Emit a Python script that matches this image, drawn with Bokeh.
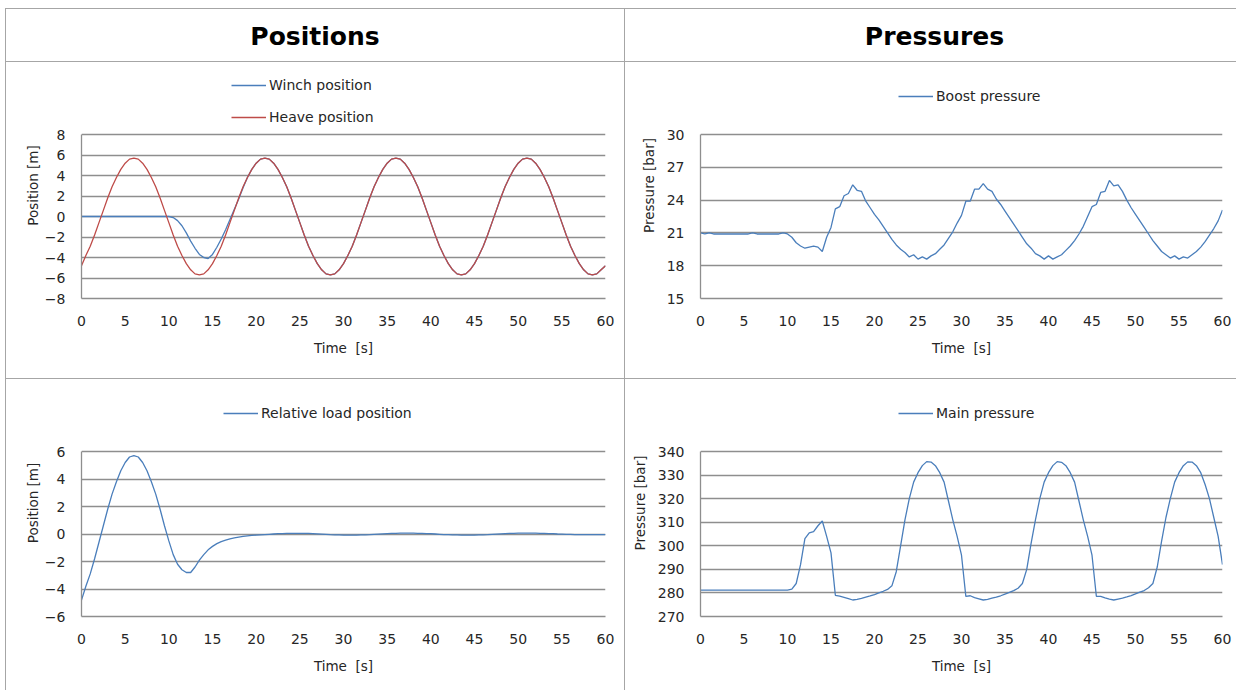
from bokeh.plotting import figure
from bokeh.models import Legend, LegendItem, Div, Range1d, FixedTicker
from bokeh.layouts import column, row
from bokeh.embed import file_html
from bokeh.resources import INLINE

# ---------------- data ----------------
time_s = [i * 0.5 for i in range(121)]  # 0 .. 60 s, 0.5 s steps

heave_position = [
    -4.8, -3.8, -2.9, -1.8, -0.6, 0.6, 1.8, 2.9, 3.8, 4.6, 5.2, 5.6, 5.7, 5.6, 5.2, 4.6, 3.8, 2.9, 1.8, 0.6,
    -0.6, -1.8, -2.9, -3.8, -4.6, -5.2, -5.6, -5.7, -5.6, -5.2,
    -4.6, -3.8, -2.9, -1.8, -0.6, 0.6, 1.8, 2.9, 3.8, 4.6, 5.2, 5.6, 5.7, 5.6, 5.2, 4.6, 3.8, 2.9, 1.8, 0.6,
    -0.6, -1.8, -2.9, -3.8, -4.6, -5.2, -5.6, -5.7, -5.6, -5.2,
    -4.6, -3.8, -2.9, -1.8, -0.6, 0.6, 1.8, 2.9, 3.8, 4.6, 5.2, 5.6, 5.7, 5.6, 5.2, 4.6, 3.8, 2.9, 1.8, 0.6,
    -0.6, -1.8, -2.9, -3.8, -4.6, -5.2, -5.6, -5.7, -5.6, -5.2,
    -4.6, -3.8, -2.9, -1.8, -0.6, 0.6, 1.8, 2.9, 3.8, 4.6, 5.2, 5.6, 5.7, 5.6, 5.2, 4.6, 3.8, 2.9, 1.8, 0.6,
    -0.6, -1.8, -2.9, -3.8, -4.6, -5.2, -5.6, -5.7, -5.6, -5.2,
    -4.8,
]

winch_position = [
    0, 0, 0, 0, 0, 0, 0, 0, 0, 0, 0, 0, 0, 0, 0, 0, 0, 0, 0, 0, 0,
    -0.1, -0.4, -0.9, -1.6, -2.4, -3.1, -3.7, -4.0, -4.1,
    -3.7, -3.0, -2.2, -1.3, -0.3, 0.7, 1.7, 2.8, 3.8, 4.6, 5.2, 5.6, 5.7, 5.6, 5.2, 4.6, 3.8, 2.9, 1.8, 0.6,
    -0.6, -1.8, -2.9, -3.8, -4.6, -5.2, -5.6, -5.7, -5.6, -5.2,
    -4.6, -3.8, -2.9, -1.8, -0.6, 0.6, 1.8, 2.9, 3.8, 4.6, 5.2, 5.6, 5.7, 5.6, 5.2, 4.6, 3.8, 2.9, 1.8, 0.6,
    -0.6, -1.8, -2.9, -3.8, -4.6, -5.2, -5.6, -5.7, -5.6, -5.2,
    -4.6, -3.8, -2.9, -1.8, -0.6, 0.6, 1.8, 2.9, 3.8, 4.6, 5.2, 5.6, 5.7, 5.6, 5.2, 4.6, 3.8, 2.9, 1.8, 0.6,
    -0.6, -1.8, -2.9, -3.8, -4.6, -5.2, -5.6, -5.7, -5.6, -5.2,
    -4.8,
]

relative_load_position = [
    -4.8, -3.8, -2.9, -1.8, -0.6, 0.6, 1.8, 2.9, 3.8, 4.6, 5.2, 5.6, 5.7, 5.6, 5.2, 4.6, 3.8, 2.9, 1.8, 0.6,
    -0.5, -1.5, -2.2, -2.6, -2.8, -2.8, -2.4, -1.9, -1.5, -1.15,
    -0.9, -0.7, -0.55, -0.45, -0.35, -0.28, -0.22, -0.17, -0.13, -0.1,
    -0.08, -0.06, -0.04, -0.02, 0.0, 0.02, 0.03, 0.04, 0.05, 0.05,
    0.05, 0.05, 0.04, 0.03, 0.01, -0.01, -0.03, -0.05, -0.06, -0.07,
    -0.08, -0.08, -0.08, -0.08, -0.07, -0.06, -0.05, -0.03, -0.01, 0.01,
    0.03, 0.04, 0.05, 0.06, 0.06, 0.06, 0.06, 0.05, 0.04, 0.03,
    0.02, 0.0, -0.02, -0.04, -0.05, -0.06, -0.07, -0.08, -0.08, -0.08,
    -0.08, -0.07, -0.06, -0.05, -0.03, -0.01, 0.01, 0.03, 0.04, 0.05,
    0.06, 0.06, 0.06, 0.06, 0.06, 0.05, 0.04, 0.03, 0.02, 0.0,
    -0.01, -0.02, -0.03, -0.04, -0.04, -0.04, -0.04, -0.04, -0.04, -0.05,
    -0.05,
]

boost_pressure = [
    21.0, 20.9, 21.0, 20.9, 20.9, 20.9, 20.9, 20.9, 20.9, 20.9,
    20.9, 20.9, 21.0, 20.9, 20.9, 20.9, 20.9, 20.9, 20.9, 21.0,
    20.9, 20.6, 20.1, 19.8, 19.6, 19.7, 19.8, 19.7, 19.3, 20.6,
    21.5, 23.2, 23.4, 24.4, 24.6, 25.4, 24.9, 24.8, 23.9, 23.3,
    22.7, 22.2, 21.6, 21.0, 20.4, 19.9, 19.5, 19.2, 18.8, 19.0,
    18.6, 18.8, 18.6, 18.9, 19.1, 19.5, 19.9, 20.5, 21.1, 21.9,
    22.6, 23.9, 23.9, 25.0, 25.0, 25.5, 25.0, 24.8, 24.1, 23.6,
    23.0, 22.4, 21.8, 21.2, 20.6, 20.0, 19.6, 19.1, 18.9, 18.6,
    18.9, 18.6, 18.8, 19.0, 19.4, 19.8, 20.3, 20.9, 21.6, 22.5,
    23.4, 23.6, 24.7, 24.8, 25.8, 25.3, 25.4, 24.8, 24.0, 23.3,
    22.7, 22.1, 21.5, 20.9, 20.3, 19.8, 19.3, 19.0, 18.7, 18.9,
    18.6, 18.8, 18.7, 19.0, 19.3, 19.7, 20.2, 20.8, 21.4, 22.1,
    23.1,
]

main_pressure = [
    281.2, 281.2, 281.2, 281.2, 281.2, 281.2, 281.2, 281.2, 281.2, 281.2,
    281.2, 281.2, 281.2, 281.2, 281.2, 281.2, 281.2, 281.2, 281.2, 281.2,
    281.2, 281.6, 284, 292, 303, 305.5, 306, 308.5, 310.5, 304,
    297, 279, 278.6, 278.1, 277.6, 277.0, 277.3, 277.7, 278.2, 278.7,
    279.3, 280.0, 280.7, 281.5, 283, 289, 300, 311, 320, 327,
    331, 334, 335.7, 335.5, 334, 331, 327, 319, 311, 304,
    296, 278.5, 278.8, 278.0, 277.5, 277.0, 277.3, 277.8, 278.2, 278.8,
    279.5, 280.2, 281.0, 282.0, 284, 290, 301, 311, 320, 327,
    331, 334, 335.7, 335.4, 334, 331, 327, 319, 311, 304,
    296, 278.6, 278.5, 277.9, 277.4, 277.0, 277.4, 277.8, 278.3, 278.9,
    279.6, 280.3, 281.0, 282.2, 284, 291, 302, 312, 320, 327,
    331, 334, 335.6, 335.5, 334, 331, 326, 320, 312, 304,
    292,
]

x_ticks = [0, 5, 10, 15, 20, 25, 30, 35, 40, 45, 50, 55, 60]
pos_ticks_top = [-8, -6, -4, -2, 0, 2, 4, 6, 8]
pos_ticks_bottom = [-6, -4, -2, 0, 2, 4, 6]
boost_ticks = [15, 18, 21, 24, 27, 30]
main_ticks = [270, 280, 290, 300, 310, 320, 330, 340]

# ---------------- styling ----------------
FONT = "DejaVu Sans"
TXT = "#262626"
GRID = "#8e8e8e"
BORDER = "#a6a6a6"
BLUE = "#4A7EBB"
RED = "#BE4B48"

cell_style = {
    "border-top": f"1px solid {BORDER}",
    "border-left": f"1px solid {BORDER}",
    "box-sizing": "border-box",
}

FRAME_TOP_PAD = 10      # frame begins 10 px below the cell top (legend lives in the frame)
PLOT_TOP_GAP = 62       # gap between frame top and the top gridline


def make_chart(width, height, left, right, bottom, yticks, ylabel, ylabel_standoff):
    ymin, ymax = yticks[0], yticks[-1]
    frame_h = height - FRAME_TOP_PAD - bottom
    ppu = (frame_h - PLOT_TOP_GAP) / (ymax - ymin)
    y_end = ymax + PLOT_TOP_GAP / ppu
    p = figure(width=width, height=height, output_backend="svg", toolbar_location=None,
               x_range=Range1d(0, 60), y_range=Range1d(ymin, y_end),
               min_border_left=left, min_border_right=right,
               min_border_top=FRAME_TOP_PAD, min_border_bottom=bottom)
    p.styles = dict(cell_style)
    p.outline_line_color = None
    p.background_fill_color = "white"
    p.border_fill_color = "white"
    p.xgrid.grid_line_color = None
    p.ygrid.grid_line_color = GRID
    p.ygrid.grid_line_width = 1.3
    p.xaxis.ticker = FixedTicker(ticks=x_ticks)
    p.yaxis.ticker = FixedTicker(ticks=yticks)
    p.yaxis.bounds = (ymin, ymax)
    for ax in (p.xaxis[0], p.yaxis[0]):
        ax.axis_line_color = GRID
        ax.axis_line_width = 1.3
        ax.major_tick_line_color = None
        ax.minor_tick_line_color = None
        ax.major_tick_out = 0
        ax.major_tick_in = 0
        ax.major_label_text_font = FONT
        ax.major_label_text_font_size = "14px"
        ax.major_label_text_color = TXT
        ax.axis_label_text_font = FONT
        ax.axis_label_text_font_size = "13.5px"
        ax.axis_label_text_font_style = "normal"
        ax.axis_label_text_color = TXT
    p.xaxis.axis_label = "Time\u00a0 [s]"
    p.xaxis.major_label_standoff = 17
    p.xaxis.axis_label_standoff = 11
    p.yaxis.axis_label = ylabel
    p.yaxis.major_label_standoff = 16
    p.yaxis.axis_label_standoff = ylabel_standoff
    return p


def add_legend(p, items, x, y):
    leg = Legend(items=items, location=(x, y), orientation="vertical",
                 glyph_width=35, glyph_height=16, label_height=16, spacing=16,
                 padding=0, margin=0, label_standoff=3,
                 border_line_color=None, background_fill_alpha=0,
                 label_text_font=FONT, label_text_font_size="14px",
                 label_text_color=TXT)
    p.add_layout(leg)


# ---- top-left: positions
p_tl = make_chart(619, 317, 75, 20, 81, pos_ticks_top, "Position [m]", 1)
r_w = p_tl.line(time_s, winch_position, line_color=BLUE, line_width=1.3)
r_h = p_tl.line(time_s, heave_position, line_color=RED, line_width=1.3)
add_legend(p_tl, [LegendItem(label="Winch position", renderers=[r_w]),
                  LegendItem(label="Heave position", renderers=[r_h])], 150, 173)

# ---- top-right: boost pressure
p_tr = make_chart(612, 317, 75, 15, 81, boost_ticks, "Pressure [bar]", 7)
r_b = p_tr.line(time_s, boost_pressure, line_color=BLUE, line_width=1.3)
add_legend(p_tr, [LegendItem(label="Boost pressure", renderers=[r_b])], 198, 194)

# ---- bottom-left: relative load position
p_bl = make_chart(619, 312, 75, 20, 75, pos_ticks_bottom, "Position [m]", 1)
r_r = p_bl.line(time_s, relative_load_position, line_color=BLUE, line_width=1.3)
add_legend(p_bl, [LegendItem(label="Relative load position", renderers=[r_r])], 142, 195)

# ---- bottom-right: main pressure
p_br = make_chart(612, 312, 75, 15, 75, main_ticks, "Pressure [bar]", 7)
r_m = p_br.line(time_s, main_pressure, line_color=BLUE, line_width=1.3)
add_legend(p_br, [LegendItem(label="Main pressure", renderers=[r_m])], 198, 195)

# ---- headers
hdr_common = {
    "font-family": FONT, "font-weight": "bold", "font-size": "25px",
    "color": "#000000", "text-align": "center", "line-height": "56px",
}
hdr_l = Div(text="Positions", width=619, height=53, margin=0,
            styles={**cell_style, **hdr_common})
hdr_r = Div(text="Pressures", width=612, height=53, margin=0,
            styles={**cell_style, **hdr_common, "padding-left": "8px"})

layout = column(row(hdr_l, hdr_r), row(p_tl, p_tr), row(p_bl, p_br))
layout.margin = (8, 0, 0, 5)

with open("out.html", "w") as f:
    f.write(file_html(layout, INLINE))
